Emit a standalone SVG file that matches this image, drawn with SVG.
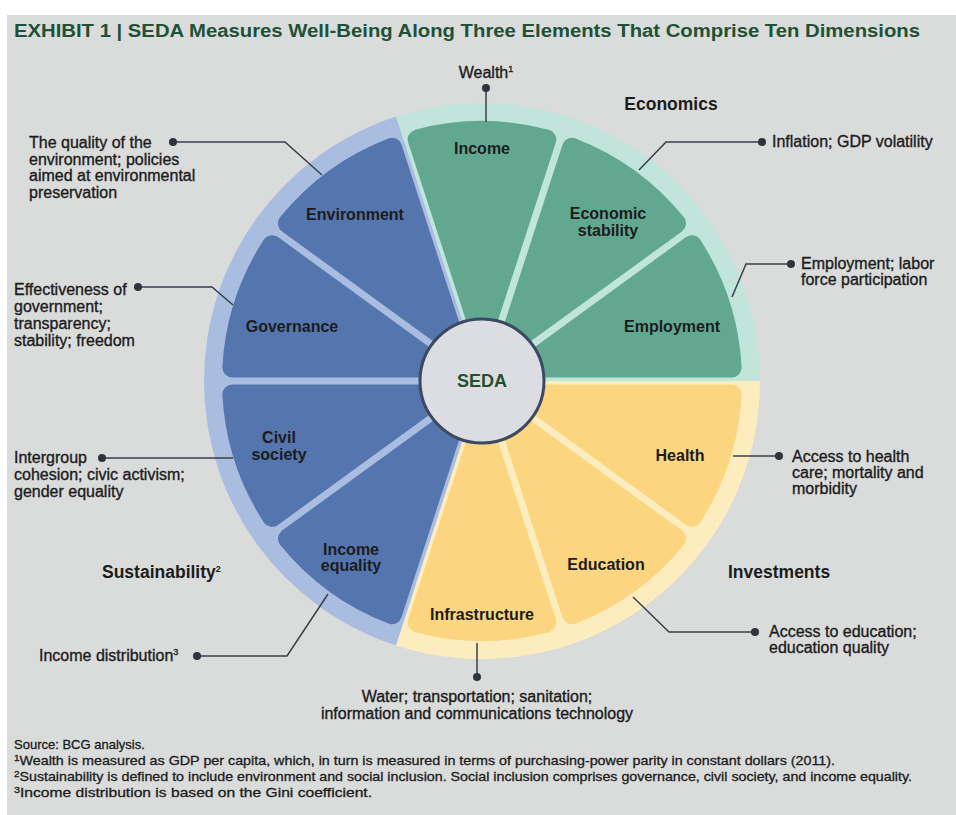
<svg xmlns="http://www.w3.org/2000/svg" width="956" height="815" viewBox="0 0 956 815">
<style>
text{font-family:"Liberation Sans",Arial,sans-serif;fill:#1c1c1c}
.title{font-size:17.5px;font-weight:bold;fill:#1e5135}
.w{font-size:16px;font-weight:bold;text-anchor:middle}
.grp{font-size:17.5px;font-weight:bold}
.lab{font-size:16px;stroke:#1c1c1c;stroke-width:0.35}
.fn{font-size:13px;stroke:#1c1c1c;stroke-width:0.3}
.sup{font-size:9px}
.blue{fill:#5475ae;stroke:#5475ae;stroke-width:20;stroke-linejoin:round}
.teal{fill:#62a891;stroke:#62a891;stroke-width:20;stroke-linejoin:round}
.yel{fill:#fbd580;stroke:#fbd580;stroke-width:20;stroke-linejoin:round}
.lead{fill:none;stroke:#3a3f47;stroke-width:1.5}
.dot{fill:#2e343c}
</style>
<rect x="0" y="0" width="956" height="815" fill="#ffffff"/>
<rect x="7" y="15" width="949" height="800" fill="#dadbdb"/>
<text class="title" x="14" y="37" textLength="906" lengthAdjust="spacingAndGlyphs">EXHIBIT 1 | SEDA Measures Well-Being Along Three Elements That Comprise Ten Dimensions</text>

<g id="rings">
<path d="M482,381 L396.09,645.39 A278,278 0 0 1 396.09,116.61 Z" fill="#a8bde0"/>
<path d="M482,381 L396.09,116.61 A278,278 0 0 1 760,381 Z" fill="#c2e5db"/>
<path d="M482,381 L760,381 A278,278 0 0 1 396.09,645.39 Z" fill="#fdedbe"/>
</g>

<g id="health"><path class="yel" d="M523.56,394.5 L731.64,394.5 A250,250 0 0 1 691.89,516.81 Z"/><text class="w" x="680" y="461">Health</text></g>
<g id="education"><path class="yel" d="M507.69,416.35 L676.03,538.65 A250,250 0 0 1 571.98,614.25 Z"/><text class="w" x="606" y="570">Education</text></g>
<g id="infrastructure"><path class="yel" d="M482,424.7 L546.31,622.59 A250,250 0 0 1 417.69,622.59 Z"/><text class="w" x="482" y="620">Infrastructure</text></g>
<g id="income-equality"><path class="blue" d="M456.31,416.35 L392.02,614.25 A250,250 0 0 1 287.97,538.65 Z"/><text class="w" x="351" y="555">Income</text><text class="w" x="351" y="571">equality</text></g>
<g id="civil-society"><path class="blue" d="M440.44,394.5 L272.11,516.81 A250,250 0 0 1 232.36,394.5 Z"/><text class="w" x="279" y="443">Civil</text><text class="w" x="279" y="460">society</text></g>
<g id="governance"><path class="blue" d="M440.44,367.5 L232.36,367.5 A250,250 0 0 1 272.11,245.19 Z"/><text class="w" x="292" y="332">Governance</text></g>
<g id="environment"><path class="blue" d="M456.31,345.65 L287.97,223.35 A250,250 0 0 1 392.02,147.75 Z"/><text class="w" x="355" y="220">Environment</text></g>
<g id="income"><path class="teal" d="M482,337.3 L417.69,139.41 A250,250 0 0 1 546.31,139.41 Z"/><text class="w" x="482" y="154">Income</text></g>
<g id="economic-stability"><path class="teal" d="M507.69,345.65 L571.98,147.75 A250,250 0 0 1 676.03,223.35 Z"/><text class="w" x="608" y="219">Economic</text><text class="w" x="608" y="236">stability</text></g>
<g id="employment"><path class="teal" d="M523.56,367.5 L691.89,245.19 A250,250 0 0 1 731.64,367.5 Z"/><text class="w" x="672" y="332">Employment</text></g>

<g id="seda"><circle cx="482" cy="381" r="62" fill="#dcdde2" stroke="#3b4a60" stroke-width="3"/><text x="482" y="387" text-anchor="middle" font-size="18" font-weight="bold" style="fill:#23502f">SEDA</text></g>

<g id="connectors">
<polyline class="lead" points="486,88 486,122"/>
<polyline class="lead" points="762,142 666,142 639,170"/>
<polyline class="lead" points="791,264 746,264 732,297"/>
<polyline class="lead" points="173,142 285,142 322,175"/>
<polyline class="lead" points="138,287 212,287 233,305"/>
<polyline class="lead" points="102,458 233,458"/>
<polyline class="lead" points="197,656 287,656 328,594"/>
<polyline class="lead" points="477,643 477,677"/>
<polyline class="lead" points="733,456 779,456"/>
<polyline class="lead" points="755,632 669,632 633,597"/>
<circle class="dot" cx="486" cy="88" r="4"/>
<circle class="dot" cx="762" cy="142" r="4"/>
<circle class="dot" cx="791" cy="264" r="4"/>
<circle class="dot" cx="173" cy="142" r="4"/>
<circle class="dot" cx="138" cy="287" r="4"/>
<circle class="dot" cx="102" cy="458" r="4"/>
<circle class="dot" cx="197" cy="656" r="4"/>
<circle class="dot" cx="477" cy="677" r="4"/>
<circle class="dot" cx="779" cy="456" r="4"/>
<circle class="dot" cx="755" cy="632" r="4"/>
</g>

<g id="labels">
<text class="lab" x="486" y="78" text-anchor="middle">Wealth<tspan class="sup" dy="-6">1</tspan></text>
<text class="grp" x="671" y="110" text-anchor="middle">Economics</text>
<text class="lab" x="772" y="147">Inflation; GDP volatility</text>
<text class="lab" x="801" y="269">Employment; labor</text>
<text class="lab" x="801" y="285">force participation</text>
<text class="lab" x="29" y="148">The quality of the</text>
<text class="lab" x="29" y="165">environment; policies</text>
<text class="lab" x="29" y="181">aimed at environmental</text>
<text class="lab" x="29" y="198">preservation</text>
<text class="lab" x="14" y="295">Effectiveness of</text>
<text class="lab" x="14" y="312">government;</text>
<text class="lab" x="14" y="329">transparency;</text>
<text class="lab" x="14" y="346">stability; freedom</text>
<text class="lab" x="14" y="463">Intergroup</text>
<text class="lab" x="14" y="480">cohesion; civic activism;</text>
<text class="lab" x="14" y="497">gender equality</text>
<text class="grp" x="102" y="578">Sustainability<tspan class="sup" dy="-6">2</tspan></text>
<text class="lab" x="39" y="661">Income distribution<tspan class="sup" dy="-6">3</tspan></text>
<text class="lab" x="477" y="702" text-anchor="middle">Water; transportation; sanitation;</text>
<text class="lab" x="477" y="719" text-anchor="middle">information and communications technology</text>
<text class="lab" x="792" y="462">Access to health</text>
<text class="lab" x="792" y="478">care; mortality and</text>
<text class="lab" x="792" y="494">morbidity</text>
<text class="grp" x="728" y="578">Investments</text>
<text class="lab" x="769" y="637">Access to education;</text>
<text class="lab" x="769" y="653">education quality</text>
</g>

<g id="footnotes">
<text class="fn" x="14" y="749">Source: BCG analysis.</text>
<text class="fn" x="14" y="765" textLength="821" lengthAdjust="spacingAndGlyphs"><tspan class="sup" dy="-4">1</tspan><tspan dy="4">Wealth is measured as GDP per capita, which, in turn is measured in terms of purchasing-power parity in constant dollars (2011).</tspan></text>
<text class="fn" x="14" y="781" textLength="898" lengthAdjust="spacingAndGlyphs"><tspan class="sup" dy="-4">2</tspan><tspan dy="4">Sustainability is defined to include environment and social inclusion. Social inclusion comprises governance, civil society, and income equality.</tspan></text>
<text class="fn" x="14" y="797" textLength="358" lengthAdjust="spacingAndGlyphs"><tspan class="sup" dy="-4">3</tspan><tspan dy="4">Income distribution is based on the Gini coefficient.</tspan></text>
</g>
</svg>
